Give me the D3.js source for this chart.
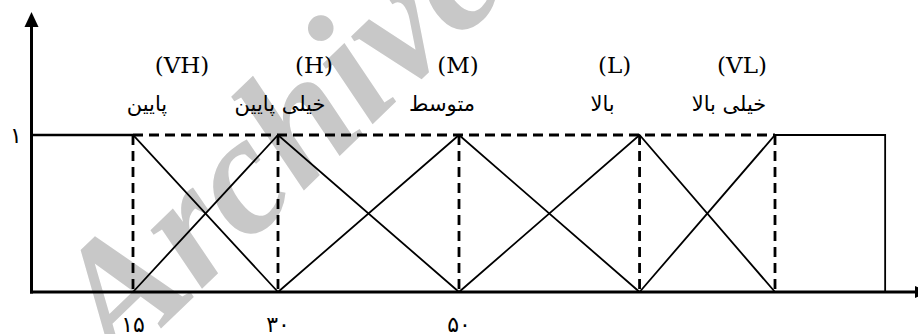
<!DOCTYPE html>
<html>
<head>
<meta charset="utf-8">
<script src="https://cdn.jsdelivr.net/npm/d3@7"></script>
<style>
  body { margin: 0; background: #fff; }
</style>
</head>
<body>
<div id="chart"></div>
<script>
// fuzzy sets (left to right)
var setCodes = ["VH", "H", "M", "L", "VL"];
var setNames = ["پایین", "خیلی پایین", "متوسط", "بالا", "خیلی بالا"];
// peak of each set on the x axis
var peaks = [15, 30, 50, 70, 85];
// x axis tick labels (Persian digits)
var tickValues = [15, 30, 50];
var tickLabels = ["۱۵", "۳۰", "۵۰"];
var yLabel = "۱";
// left / right ends of the shoulders
var xStart = 4.5, xEnd = 97.2;

var width = 918, height = 334;

var svg = d3.select("#chart")
    .append("svg")
    .attr("width", width)
    .attr("height", height)
    .style("background", "#fff");

// x is not evenly spaced in the original, so use a piecewise scale
var x = d3.scaleLinear()
    .domain([15, 30, 50, 85])
    .range([133, 278, 459, 775]);

var y = d3.scaleLinear()
    .domain([0, 1])
    .range([292, 135]);

// watermark
svg.append("text")
    .attr("transform", "translate(118,370) rotate(-44)")
    .style("font-family", "Liberation Serif")
    .style("font-weight", "bold")
    .style("font-style", "italic")
    .style("font-size", "170px")
    .style("fill", "#c8c8c8")
    .text("Archive");

// dashed guides
var dash = "10,6";
svg.append("line")
    .attr("x1", x(peaks[0])).attr("x2", x(peaks[4]))
    .attr("y1", y(1)).attr("y2", y(1))
    .attr("stroke", "#000").attr("stroke-width", 2.8)
    .attr("stroke-dasharray", dash);

svg.selectAll(".vguide")
    .data(peaks)
    .enter()
    .append("line")
    .attr("class", "vguide")
    .attr("x1", function (d) { return x(d); })
    .attr("x2", function (d) { return x(d); })
    .attr("y1", y(1)).attr("y2", y(0))
    .attr("stroke", "#000").attr("stroke-width", 2.8)
    .attr("stroke-dasharray", dash);

// membership functions
function shape(i) {
    var pts = [];
    if (i === 0) pts.push([xStart, 1]);
    else pts.push([peaks[i - 1], 0]);
    pts.push([peaks[i], 1]);
    if (i === peaks.length - 1) { pts.push([xEnd, 1]); pts.push([xEnd, 0]); }
    else pts.push([peaks[i + 1], 0]);
    return pts;
}

var line = d3.line()
    .x(function (d) { return x(d[0]); })
    .y(function (d) { return y(d[1]); });

svg.selectAll(".mf")
    .data(setCodes)
    .enter()
    .append("path")
    .attr("class", "mf")
    .attr("d", function (d, i) { return line(shape(i)); })
    .attr("fill", "none")
    .attr("stroke", "#000")
    .attr("stroke-width", 1.8);

// the flat shoulders are drawn a bit heavier
svg.append("line")
    .attr("x1", x(xStart)).attr("x2", x(peaks[0]))
    .attr("y1", y(1)).attr("y2", y(1))
    .attr("stroke", "#000").attr("stroke-width", 2.6);

// axes
svg.append("line")
    .attr("x1", x(xStart) - 1.5).attr("x2", 916)
    .attr("y1", y(0)).attr("y2", y(0))
    .attr("stroke", "#000").attr("stroke-width", 3);
svg.append("path")
    .attr("d", "M915," + (y(0) - 6) + "L930," + y(0) + "L915," + (y(0) + 6) + "Z")
    .attr("fill", "#000");

svg.append("line")
    .attr("x1", x(xStart)).attr("x2", x(xStart))
    .attr("y1", y(0) + 1.5).attr("y2", 26)
    .attr("stroke", "#000").attr("stroke-width", 3);
svg.append("path")
    .attr("d", "M" + (x(xStart) - 7) + ",27L" + x(xStart) + ",12L" + (x(xStart) + 7) + ",27Z")
    .attr("fill", "#000");

// tick labels
svg.selectAll(".tick")
    .data(tickValues)
    .enter()
    .append("text")
    .attr("class", "tick")
    .attr("x", function (d) { return x(d); })
    .attr("y", 332)
    .attr("text-anchor", "middle")
    .style("font-family", "DejaVu Sans")
    .style("font-size", "22px")
    .text(function (d, i) { return tickLabels[i]; });

svg.append("text")
    .attr("x", 16)
    .attr("y", y(1) + 8)
    .attr("text-anchor", "middle")
    .style("font-family", "DejaVu Sans")
    .style("font-size", "22px")
    .text(yLabel);

// set labels
var codeOffset = [49, 36, -1, -25, -33];
var nameOffset = [14, 2, -17, -37, -46];

svg.selectAll(".code")
    .data(setCodes)
    .enter()
    .append("text")
    .attr("class", "code")
    .attr("x", function (d, i) { return x(peaks[i]) + codeOffset[i]; })
    .attr("y", 73)
    .attr("text-anchor", "middle")
    .style("font-family", "DejaVu Serif")
    .style("font-size", "23px")
    .text(function (d) { return "(" + d + ")"; });

svg.selectAll(".name")
    .data(setNames)
    .enter()
    .append("text")
    .attr("class", "name")
    .attr("x", function (d, i) { return x(peaks[i]) + nameOffset[i]; })
    .attr("y", 111)
    .attr("text-anchor", "middle")
    .attr("direction", "rtl")
    .style("font-family", "DejaVu Sans")
    .style("font-size", "21px")
    .text(function (d) { return d; });
</script>
</body>
</html>
